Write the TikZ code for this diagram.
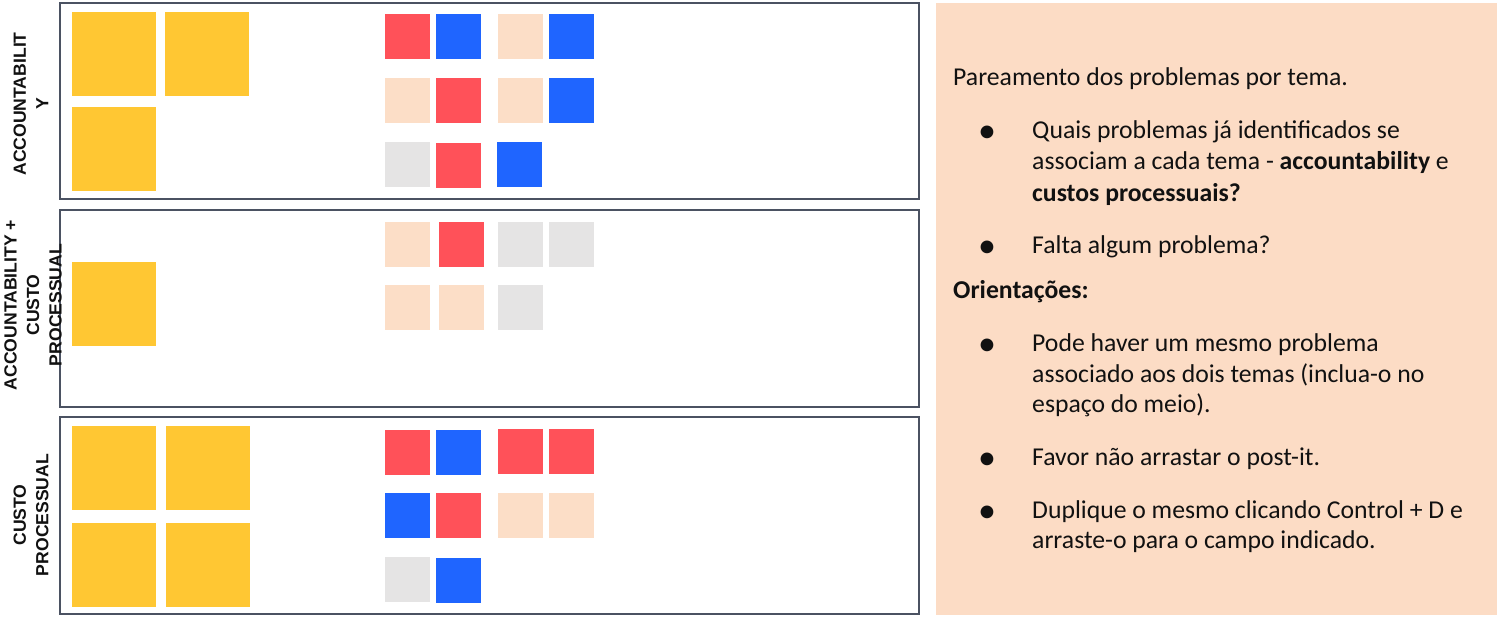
\documentclass[tikz,border=0pt]{standalone}
\usepackage{fontspec}
\setmainfont{Carlito}
\newfontfamily\labelfont{Liberation Sans}
\definecolor{framegray}{HTML}{4B5262}
\definecolor{panel}{HTML}{FCDCC5}
\definecolor{pyellow}{HTML}{FFC733}
\definecolor{pred}{HTML}{FF5159}
\definecolor{pblue}{HTML}{1F65FF}
\definecolor{ppeach}{HTML}{FCDEC7}
\definecolor{pgray}{HTML}{E5E4E4}
\definecolor{txtcol}{HTML}{111111}
\newcommand{\pit}[3]{\fill[#1] (#2,#3) rectangle ++(45,45);}
\newcommand{\bigpit}[2]{\fill[pyellow] (#1,#2) rectangle ++(84,84);}
\begin{document}
\begin{tikzpicture}[x=1pt,y=-1pt,
  frame/.style={draw=framegray, line width=2pt},
  sidelabel/.style={font=\labelfont\bfseries\fontsize{17.6}{22.5}\selectfont, rotate=90, align=center, inner sep=0pt, text=txtcol},
  txt/.style={font=\fontsize{25.7}{30.8}\selectfont, anchor=base west, inner sep=0pt, text=txtcol},
  bul/.style={font=\fontsize{36}{36}\selectfont, anchor=base, inner sep=0pt, text=txtcol}]
\useasboundingbox (0,0) rectangle (1505,623);
\fill[white] (0,0) rectangle (1505,623);
% frames
\draw[frame] (60,3) rectangle (919,199);
\draw[frame] (60,210) rectangle (919,407);
\draw[frame] (60,417) rectangle (919,614);
% panel
\fill[panel] (936,3) rectangle (1497,615);
% side labels
\node[sidelabel] (l1) at (31,104) {ACCOUNTABILIT\\Y};
\node[sidelabel] (l2) at (33,305) {ACCOUNTABILITY +\\CUSTO\\PROCESSUAL};
\node[sidelabel] (l3) at (31,515) {CUSTO\\PROCESSUAL};
% yellow post-its
\bigpit{72}{12} \bigpit{165}{12} \bigpit{72}{107}
\bigpit{72}{262}
\bigpit{72}{426} \bigpit{166}{426} \bigpit{72}{523} \bigpit{166}{523}
% box 1 small post-its
\pit{pred}{385}{14} \pit{pblue}{436}{14} \pit{ppeach}{498}{14} \pit{pblue}{549}{14}
\pit{ppeach}{385}{78} \pit{pred}{436}{78} \pit{ppeach}{498}{78} \pit{pblue}{549}{78}
\pit{pgray}{385}{142} \pit{pred}{436}{143} \pit{pblue}{497}{142}
% box 2
\pit{ppeach}{385}{222} \pit{pred}{439}{222} \pit{pgray}{498}{222} \pit{pgray}{549}{222}
\pit{ppeach}{385}{285} \pit{ppeach}{439}{285} \pit{pgray}{498}{285}
% box 3
\pit{pred}{385}{430} \pit{pblue}{436}{430} \pit{pred}{498}{429} \pit{pred}{549}{429}
\pit{pblue}{385}{493} \pit{pred}{436}{493} \pit{ppeach}{498}{493} \pit{ppeach}{549}{493}
\pit{pgray}{385}{557} \pit{pblue}{436}{558}
% panel text
\node[txt] (p1) at (953,86) {Pareamento dos problemas por tema.};
\node[bul] (b1) at (987,143) {\textbullet};
\node[txt] (q1) at (1032,139) {Quais problemas já identificados se};
\node[txt] (q2) at (1032,170) {associam a cada tema - \textbf{accountability} e};
\node[txt] (q3) at (1032,201) {\textbf{custos processuais?}};
\node[bul] (b2) at (987,257) {\textbullet};
\node[txt] (f1) at (1032,253) {Falta algum problema?};
\node[txt] (o1) at (953,298) {\textbf{Orientações:}};
\node[bul] (b3) at (987,355) {\textbullet};
\node[txt] (r1) at (1032,351) {Pode haver um mesmo problema};
\node[txt] (r2) at (1032,382) {associado aos dois temas (inclua-o no};
\node[txt] (r3) at (1032,412) {espaço do meio).};
\node[bul] (b4) at (987,469) {\textbullet};
\node[txt] (s1) at (1032,465) {Favor não arrastar o post-it.};
\node[bul] (b5) at (987,522) {\textbullet};
\node[txt] (d1) at (1032,518) {Duplique o mesmo clicando Control + D e};
\node[txt] (d2) at (1032,548) {arraste-o para o campo indicado.};
\end{tikzpicture}
\end{document}
